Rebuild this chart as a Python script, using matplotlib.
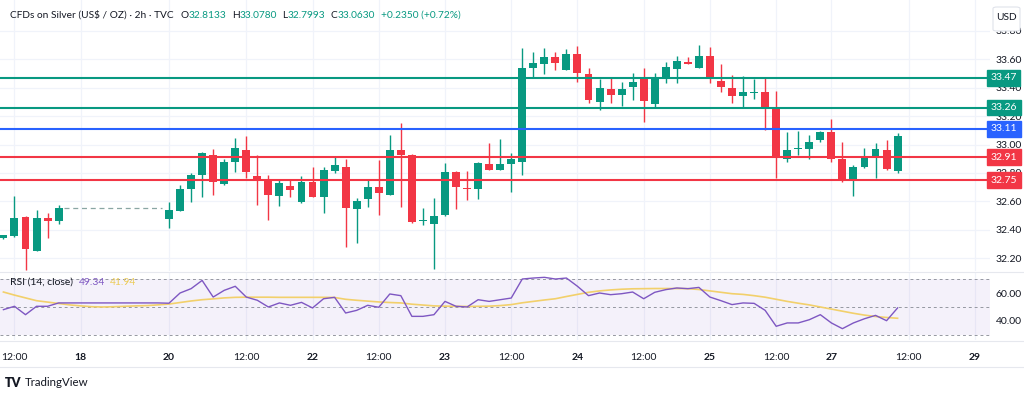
import matplotlib
matplotlib.use("Agg")
import matplotlib.pyplot as plt
from matplotlib.lines import Line2D
from matplotlib.patches import FancyBboxPatch

plt.rcParams['font.family'] = ['Lato', 'DejaVu Sans']

W, H = 1024, 394

# ---------------- data ----------------
slots = [0, 1, 2, 3, 4, 5] + list(range(15, 82))
opens = [32.340, 32.357, 32.492, 32.251, 32.485, 32.464,
         32.476, 32.535, 32.687, 32.784, 32.927, 32.722, 32.875, 32.962, 32.781, 32.758,
         32.638, 32.710, 32.594, 32.739, 32.633, 32.814, 32.840, 32.544, 32.615, 32.703,
         32.645, 32.962, 32.927, 32.462, 32.439, 32.504, 32.805, 32.694, 32.687, 32.861,
         32.821, 32.861, 32.879, 33.537, 33.567, 33.614, 33.525, 33.637, 33.494, 33.297,
         33.391, 33.349, 33.407, 33.459, 33.285, 33.466, 33.532, 33.583, 33.541, 33.625,
         33.449, 33.398, 33.342, 33.366, 33.368, 33.255, 32.898, 32.966, 32.967, 33.032,
         33.091, 32.896, 32.746, 32.840, 32.908, 32.962, 32.8133]
highs = [32.366, 32.638, 32.497, 32.540, 32.516, 32.575,
         32.598, 32.715, 32.798, 32.948, 32.967, 32.896, 33.044, 33.060, 32.927, 32.786,
         32.751, 32.751, 32.779, 32.844, 32.840, 32.915, 32.896, 32.622, 32.756, 32.891,
         33.067, 33.154, 32.930, 32.551, 32.622, 32.872, 32.814, 32.814, 32.879, 33.013,
         33.037, 32.943, 33.682, 33.649, 33.677, 33.649, 33.673, 33.696, 33.537, 33.461,
         33.471, 33.442, 33.506, 33.537, 33.501, 33.579, 33.625, 33.618, 33.701, 33.689,
         33.565, 33.492, 33.480, 33.461, 33.473, 33.379, 33.091, 33.095, 33.067, 33.095,
         33.178, 33.020, 32.856, 32.974, 33.013, 33.032, 33.0780]
lows = [32.338, 32.352, 32.117, 32.248, 32.340, 32.441,
        32.411, 32.530, 32.598, 32.633, 32.645, 32.715, 32.805, 32.763, 32.575, 32.469,
        32.568, 32.629, 32.590, 32.629, 32.520, 32.800, 32.281, 32.305, 32.559, 32.504,
        32.645, 32.559, 32.450, 32.434, 32.122, 32.500, 32.544, 32.610, 32.615, 32.819,
        32.819, 32.668, 32.786, 33.466, 33.494, 33.525, 33.525, 33.442, 33.290, 33.243,
        33.290, 33.274, 33.314, 33.157, 33.259, 33.431, 33.435, 33.569, 33.537, 33.431,
        33.372, 33.292, 33.255, 33.321, 33.103, 32.763, 32.879, 32.927, 32.898, 33.020,
        32.879, 32.739, 32.638, 32.833, 32.763, 32.821, 32.7993]
closes = [32.364, 32.481, 32.265, 32.485, 32.464, 32.556,
          32.540, 32.687, 32.784, 32.943, 32.739, 32.879, 32.974, 32.805, 32.758, 32.645,
          32.727, 32.680, 32.739, 32.633, 32.821, 32.856, 32.551, 32.603, 32.703, 32.661,
          32.962, 32.927, 32.457, 32.466, 32.497, 32.809, 32.703, 32.690, 32.868, 32.821,
          32.863, 32.896, 33.537, 33.572, 33.614, 33.576, 33.637, 33.506, 33.314, 33.396,
          33.349, 33.391, 33.438, 33.309, 33.466, 33.544, 33.588, 33.569, 33.625, 33.471,
          33.407, 33.342, 33.372, 33.369, 33.255, 32.910, 32.962, 32.970, 33.020, 33.086,
          32.896, 32.758, 32.840, 32.908, 32.967, 32.828, 33.0630]

rsi_slots = list(range(0, 82))
rsi = [48.1, 50.5, 44.5, 50.5, 50.5, 52.9,
       52.9, 52.9, 52.9, 52.9, 52.9, 52.9, 52.9, 52.9, 52.9,
       52.7, 60.0, 63.1, 69.0, 57.1, 61.9, 64.8, 57.1, 54.8, 50.0,
       52.9, 51.2, 53.3, 49.3, 55.9, 56.9, 45.7, 47.6, 51.2, 49.8,
       59.3, 58.1, 43.3, 43.3, 44.5, 54.0, 50.5, 50.0, 55.2, 54.0,
       55.2, 56.4, 70.0, 70.7, 71.2, 70.0, 70.7, 64.8, 58.1, 60.0,
       58.8, 59.5, 60.7, 55.9, 60.5, 62.4, 63.6, 63.1, 64.0, 57.1,
       54.5, 51.7, 52.9, 52.6, 47.6, 36.2, 38.6, 38.6, 40.9, 44.5,
       38.6, 34.5, 38.6, 41.6, 44.0, 40.2, 49.34]
rsi_ma = [60.7, 58.5, 56.5, 54.5, 53.5, 52.5, 51.5, 50.8, 50.2, 50.0,
          50.2, 50.5, 50.8, 51.0, 51.5, 52.1, 53.2, 54.3, 55.2, 55.8,
          56.5, 56.9, 57.0, 57.0, 57.0, 56.9, 56.9, 56.9, 56.9, 56.9,
          56.8, 55.5, 54.8, 54.2, 53.6, 53.2, 52.9, 52.0, 51.4, 50.8,
          50.6, 50.5, 50.4, 50.5, 50.6, 51.0, 51.7, 53.0, 54.0, 55.0,
          55.9, 57.5, 59.0, 60.5, 61.5, 62.2, 62.7, 63.0, 63.1, 63.2,
          63.2, 63.2, 63.1, 62.5, 61.5, 60.5, 59.5, 59.0, 58.1, 57.0,
          55.5, 54.0, 52.7, 51.5, 50.0, 48.5, 47.0, 45.5, 44.2, 43.2,
          42.5, 41.94]

levels = [33.47, 33.26, 33.11, 32.91, 32.75]
level_colors = ['#089981', '#089981', '#2962ff', '#f23645', '#f23645']

price_ticks = [32.20, 32.40, 32.60, 32.80, 33.00, 33.20, 33.40, 33.60, 33.80]
rsi_ticks = [40, 60]
time_slots = [1, 7, 15, 22, 28, 34, 40, 46, 52, 58, 64, 70, 75, 82, 88]
time_labels = ["12:00", "18", "20", "12:00", "22", "12:00", "23", "12:00",
               "24", "12:00", "25", "12:00", "27", "12:00", "29"]

UP, DOWN = '#089981', '#f23645'
TXT = '#131722'
GRID = '#f0f3fa'

# ---------------- figure ----------------
fig = plt.figure(figsize=(W / 100, H / 100), dpi=100)
fig.patch.set_facecolor('white')


def fx(px):
    return px / W


def fy(py):
    return 1 - py / H


XL = (-0.31, 89.37)

ax = fig.add_axes([0, fy(271), fx(990), 271 / H])
ax2 = fig.add_axes([0, fy(340), fx(990), (340 - 273) / H])

for a in (ax, ax2):
    for s in a.spines.values():
        s.set_visible(False)
    a.set_xlim(*XL)
    a.set_xticks(time_slots)
    for t in time_slots:
        a.axvline(t, color=GRID, lw=0.9, zorder=0)

ax.set_ylim(32.1097, 34.0173)
ax.set_xticklabels([])
ax.tick_params(axis='x', length=0)
ax.yaxis.tick_right()
ax.set_yticks(price_ticks)
ax.set_yticklabels([f"{v:.2f}" for v in price_ticks])
ax.tick_params(axis='y', length=0, pad=4, labelsize=7.5, labelcolor=TXT)
for v in price_ticks:
    ax.axhline(v, color=GRID, lw=0.9, zorder=0)

# dashed line across the no-trade gap
for i in range(len(slots) - 1):
    if slots[i + 1] - slots[i] > 1:
        ax.plot([slots[i] + 0.5, slots[i + 1] - 0.6], [closes[i], closes[i]],
                color='#8aa6a3', lw=0.9, ls=(0, (4, 3)), zorder=2)

# candles
cols = [UP if c >= o else DOWN for o, c in zip(opens, closes)]
ax.vlines(slots, lows, highs, colors=cols, lw=1.0, zorder=3)
bottoms = [min(o, c) for o, c in zip(opens, closes)]
heights = [max(abs(c - o), 0.007) for o, c in zip(opens, closes)]
ax.bar(slots, heights, bottom=bottoms, width=0.72, color=cols, zorder=4, linewidth=0)

# level lines and boxes
for v, c in zip(levels, level_colors):
    ax.axhline(v, color=c, lw=1.5, zorder=5)
    ax.annotate(f"{v:.2f}", xy=(1, v), xycoords=('axes fraction', 'data'),
                xytext=(0.5, 0), textcoords='offset points', ha='left', va='center',
                fontsize=7.5, color='white', annotation_clip=False, zorder=10,
                bbox=dict(boxstyle='square,pad=0.32', fc=c, ec=c))

# ---- RSI pane ----
ax2.set_ylim(26.4, 74.3)
ax2.axhspan(30, 70, color='#7e57c2', alpha=0.08, lw=0, zorder=0)
for v in (70, 50, 30):
    ax2.axhline(v, color='#9598a1', lw=0.7, ls=(0, (3, 3)), zorder=1)
ax2.plot(rsi_slots, rsi_ma, color='#f2d06b', lw=1.2, zorder=2)
ax2.plot(rsi_slots, rsi, color='#7e57c2', lw=1.0, zorder=3)
ax2.yaxis.tick_right()
ax2.set_yticks(rsi_ticks)
ax2.set_yticklabels([f"{v:.2f}" for v in rsi_ticks])
ax2.tick_params(axis='y', length=0, pad=4, labelsize=7.5, labelcolor=TXT)
ax2.set_xticklabels(time_labels)
ax2.tick_params(axis='x', length=0, pad=9, labelsize=7.5, labelcolor=TXT)
for lab, txt in zip(ax2.get_xticklabels(), time_labels):
    if ':' not in txt:
        lab.set_fontweight('bold')

# RSI legend text
t = ax2.text(fx(10) / fx(990), 0.86, "RSI (14, close)", transform=ax2.transAxes,
             fontsize=7.5, color=TXT, ha='left', va='center', zorder=6)
t2 = ax2.annotate(f"{rsi[-1]:.2f}", xy=(1, 0.5), xycoords=t, xytext=(4, 0),
                  textcoords='offset points', ha='left', va='center',
                  fontsize=7.5, color='#7e57c2')
ax2.annotate(f"{rsi_ma[-1]:.2f}", xy=(1, 0.5), xycoords=t2, xytext=(4, 0),
             textcoords='offset points', ha='left', va='center',
             fontsize=7.5, color='#eccb55')

# separators
for py in (272, 341, 367):
    fig.add_artist(Line2D([0, 1], [fy(py), fy(py)], transform=fig.transFigure,
                          color='#e6e8ee', lw=0.8))

# header
green = '#089981'
prev_close = closes[-2]
chg = closes[-1] - prev_close
pct = chg / prev_close * 100
pieces = [("O", TXT, 5), (f"{opens[-1]:.4f}", green, 0),
          ("H", TXT, 4), (f"{highs[-1]:.4f}", green, 0),
          ("L", TXT, 4), (f"{lows[-1]:.4f}", green, 0),
          ("C", TXT, 4), (f"{closes[-1]:.4f}", green, 0),
          (f"{chg:+.4f} ({pct:+.2f}%)", green, 4)]
last = fig.text(fx(10), fy(15), "CFDs on Silver (US$ / OZ) · 2h · TVC", fontsize=7.3,
                color=TXT, ha='left', va='center')
for txt, col, gap in pieces:
    last = fig.add_artist(plt.Annotation(txt, xy=(1, 0.5), xycoords=last,
                                         xytext=(gap, 0), textcoords='offset points',
                                         ha='left', va='center', fontsize=7.3,
                                         color=col))

# USD box
fig.add_artist(FancyBboxPatch((fx(993), fy(31)), fx(27), 24 / H,
                              boxstyle='round,pad=0,rounding_size=0.004',
                              transform=fig.transFigure, fc='white', ec='#e0e3eb',
                              lw=0.8, zorder=20))
fig.text(fx(1006.5), fy(17), "USD", fontsize=7.3, color=TXT, ha='center',
         va='center', zorder=21)

# TradingView logo
fig.text(fx(5), fy(383), "TV", fontsize=9, fontweight='heavy', color=TXT,
         ha='left', va='center')
fig.text(fx(25), fy(383), "TradingView", fontsize=8.3, color=TXT,
         ha='left', va='center')

fig.savefig("out.png", dpi=100, facecolor='white')
